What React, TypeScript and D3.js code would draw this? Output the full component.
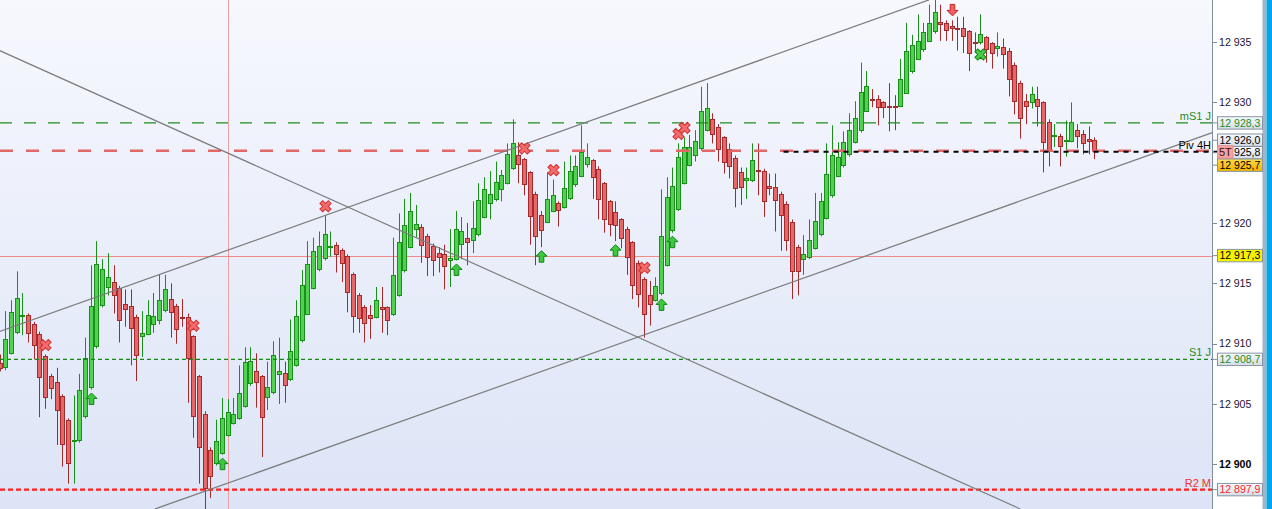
import React from "react";
import * as d3 from "d3";

// ---------- DATA ----------
const opens = [
  12908.4, 12908.1, 12909.2, 12911.0, 12912.3, 12912.4, 12911.6, 12910.8, 12909.0, 12907.3,
  12906.8, 12905.7, 12903.7, 12901.9, 12902.0, 12904.0, 12906.4, 12909.8, 12913.2, 12914.7,
  12915.1, 12914.6, 12913.3, 12913.1, 12912.2, 12910.6, 12910.8, 12911.6, 12912.0, 12912.8,
  12913.7, 12913.1, 12912.2, 12912.2, 12910.6, 12907.3, 12904.2, 12901.2, 12900.1, 12900.9,
  12902.4, 12903.4, 12903.8, 12904.8, 12906.7, 12907.7, 12907.3, 12905.6, 12906.0, 12907.5,
  12907.6, 12907.1, 12908.2, 12910.3, 12912.5, 12914.6, 12916.2, 12917.1, 12918.0, 12918.2,
  12917.8, 12917.3, 12915.8, 12914.0, 12913.0, 12912.4, 12912.2, 12913.0, 12913.0, 12912.5,
  12914.0, 12916.1, 12918.0, 12919.5, 12919.7, 12918.9, 12918.1, 12917.5, 12917.4, 12916.9,
  12917.0, 12918.3, 12918.8, 12918.6, 12919.1, 12920.5, 12921.7, 12922.0, 12922.8, 12923.3,
  12924.6, 12925.6, 12925.3, 12924.2, 12922.4, 12920.7, 12920.1, 12921.0, 12921.7, 12921.3,
  12922.1, 12923.2, 12923.9, 12924.9, 12925.2, 12924.5, 12923.3, 12921.8, 12920.9, 12920.3,
  12919.5, 12918.4, 12916.7, 12915.4, 12914.0, 12913.6, 12914.2, 12916.5, 12919.4, 12921.2,
  12923.3, 12924.8, 12925.6, 12926.2, 12927.7, 12928.6, 12928.0, 12927.1, 12926.1, 12925.4,
  12924.2, 12923.6, 12923.6, 12924.4, 12924.3, 12923.1, 12923.0, 12922.4, 12921.6, 12920.1,
  12918.0, 12917.0, 12917.2, 12917.9, 12919.1, 12920.4, 12922.3, 12923.9, 12924.8, 12925.7,
  12926.7, 12927.7, 12929.3, 12930.3, 12930.3, 12930.0, 12929.7, 12929.7, 12929.7, 12930.8,
  12932.6, 12933.6, 12934.4, 12935.1, 12935.9, 12936.7, 12936.6, 12936.3, 12936.2, 12936.2,
  12935.9, 12935.0, 12935.0, 12935.4, 12934.9, 12934.5, 12934.6, 12934.3, 12933.1, 12931.6,
  12930.1, 12930.0, 12930.3, 12930.0, 12928.4, 12927.2, 12927.2, 12926.8, 12926.8, 12927.7,
  12927.4, 12927.0, 12926.9,
];
const highs = [
  12909.1, 12912.7, 12913.6, 12916.0, 12914.2, 12912.5, 12911.8, 12911.0, 12909.1, 12907.5,
  12908.0, 12905.8, 12903.8, 12905.7, 12907.5, 12910.5, 12916.5, 12918.5, 12917.0, 12917.5,
  12916.5, 12914.8, 12914.5, 12914.5, 12912.4, 12912.7, 12913.6, 12914.2, 12915.7, 12915.7,
  12915.0, 12913.3, 12913.7, 12912.5, 12910.7, 12907.4, 12904.4, 12901.4, 12903.7, 12905.5,
  12905.4, 12905.5, 12908.2, 12909.7, 12909.7, 12909.2, 12907.4, 12908.5, 12910.2, 12910.5,
  12908.5, 12912.0, 12913.6, 12916.1, 12918.5, 12918.8, 12919.3, 12920.6, 12919.3, 12918.4,
  12917.9, 12917.4, 12915.9, 12914.2, 12913.2, 12913.2, 12914.7, 12914.7, 12913.1, 12918.8,
  12920.8, 12922.0, 12922.5, 12921.5, 12919.9, 12919.1, 12918.3, 12918.0, 12918.2, 12919.5,
  12921.0, 12920.5, 12920.0, 12921.8, 12923.3, 12923.8, 12924.3, 12925.1, 12924.4, 12926.6,
  12928.6, 12926.7, 12925.4, 12924.3, 12922.6, 12921.0, 12924.2, 12923.6, 12921.8, 12925.1,
  12925.6, 12925.6, 12928.1, 12926.6, 12925.3, 12924.7, 12923.4, 12921.9, 12921.8, 12920.4,
  12919.7, 12918.5, 12916.9, 12915.5, 12915.2, 12915.5, 12922.8, 12923.8, 12924.6, 12926.6,
  12927.1, 12927.3, 12927.7, 12931.3, 12931.6, 12929.1, 12928.2, 12927.2, 12926.6, 12925.6,
  12924.6, 12924.6, 12926.6, 12926.6, 12924.5, 12924.1, 12924.1, 12922.6, 12921.8, 12920.3,
  12918.2, 12919.0, 12920.3, 12922.5, 12922.5, 12926.6, 12928.1, 12926.7, 12927.6, 12929.1,
  12930.1, 12933.3, 12932.6, 12931.1, 12930.6, 12930.1, 12931.6, 12930.6, 12933.6, 12936.6,
  12935.6, 12937.3, 12936.6, 12938.1, 12938.5, 12938.1, 12936.8, 12936.8, 12937.1, 12937.1,
  12936.0, 12935.8, 12937.3, 12935.5, 12935.0, 12935.8, 12935.3, 12934.5, 12933.3, 12931.8,
  12930.7, 12931.3, 12931.3, 12930.1, 12928.6, 12928.2, 12927.4, 12928.5, 12930.0, 12928.2,
  12927.7, 12928.0, 12927.1,
];
const lows = [
  12907.7, 12907.8, 12909.1, 12910.8, 12910.7, 12910.1, 12908.7, 12903.9, 12904.6, 12905.4,
  12901.6, 12899.8, 12898.4, 12898.4, 12901.8, 12903.8, 12906.2, 12909.6, 12913.0, 12914.0,
  12912.5, 12910.1, 12911.4, 12908.2, 12906.9, 12908.9, 12910.7, 12910.9, 12911.6, 12912.6,
  12910.5, 12910.0, 12911.4, 12905.1, 12902.2, 12898.4, 12895.5, 12897.2, 12899.9, 12900.8,
  12902.3, 12903.3, 12903.7, 12904.7, 12906.5, 12904.7, 12900.6, 12904.5, 12905.8, 12905.0,
  12905.1, 12906.9, 12908.1, 12910.1, 12912.4, 12914.5, 12916.0, 12916.9, 12917.2, 12915.9,
  12915.1, 12912.6, 12910.9, 12910.9, 12910.1, 12910.4, 12912.1, 12910.9, 12910.7, 12912.3,
  12913.9, 12915.9, 12917.9, 12918.8, 12916.7, 12915.6, 12915.6, 12915.9, 12914.5, 12914.7,
  12916.9, 12917.0, 12916.5, 12917.5, 12918.9, 12920.4, 12920.3, 12921.8, 12921.8, 12923.2,
  12924.4, 12923.3, 12922.3, 12918.2, 12916.5, 12918.0, 12920.0, 12920.9, 12919.7, 12921.2,
  12921.9, 12923.0, 12923.8, 12924.6, 12922.0, 12920.3, 12919.2, 12918.9, 12918.5, 12917.9,
  12915.7, 12913.7, 12913.0, 12910.5, 12911.5, 12913.5, 12914.0, 12916.4, 12919.2, 12921.0,
  12923.2, 12924.7, 12925.1, 12926.0, 12927.6, 12926.6, 12925.1, 12924.1, 12923.7, 12921.3,
  12921.5, 12922.0, 12923.4, 12922.3, 12920.5, 12922.3, 12919.3, 12917.7, 12917.7, 12913.7,
  12914.0, 12915.7, 12917.0, 12917.8, 12918.9, 12920.3, 12922.1, 12923.8, 12924.6, 12925.5,
  12926.6, 12927.5, 12929.2, 12929.6, 12928.1, 12928.7, 12927.6, 12927.7, 12929.6, 12930.7,
  12932.4, 12933.5, 12934.2, 12935.0, 12935.7, 12935.1, 12935.1, 12935.1, 12934.3, 12934.1,
  12932.6, 12934.1, 12934.8, 12933.3, 12932.8, 12933.8, 12932.8, 12930.5, 12929.0, 12927.0,
  12928.2, 12929.5, 12928.0, 12924.2, 12924.7, 12926.3, 12924.7, 12925.5, 12926.7, 12926.2,
  12925.7, 12925.7, 12925.3,
];
const closes = [
  12908.0, 12910.4, 12912.6, 12913.8, 12912.4, 12910.9, 12909.9, 12907.2, 12905.6, 12906.3,
  12904.5, 12901.7, 12900.1, 12902.0, 12906.2, 12908.8, 12913.1, 12916.6, 12916.2, 12915.5,
  12914.0, 12912.0, 12912.9, 12911.3, 12909.1, 12910.9, 12912.4, 12912.3, 12913.6, 12914.5,
  12912.6, 12911.2, 12912.1, 12908.8, 12904.0, 12901.4, 12898.0, 12899.0, 12901.9, 12903.8,
  12904.3, 12904.2, 12905.9, 12908.5, 12908.6, 12906.8, 12903.9, 12906.4, 12909.1, 12907.7,
  12906.6, 12909.4, 12912.3, 12914.9, 12916.6, 12917.7, 12918.1, 12919.1, 12918.1, 12917.4,
  12916.7, 12914.3, 12912.3, 12912.1, 12911.7, 12912.1, 12913.6, 12912.9, 12912.0, 12915.7,
  12918.4, 12919.8, 12921.0, 12919.9, 12918.2, 12917.2, 12916.9, 12917.2, 12916.4, 12917.1,
  12919.5, 12919.3, 12918.4, 12919.6, 12921.9, 12922.8, 12922.4, 12923.4, 12924.0, 12925.7,
  12926.6, 12924.9, 12923.2, 12920.6, 12918.9, 12919.4, 12922.0, 12922.3, 12921.1, 12922.9,
  12924.3, 12924.7, 12925.9, 12925.5, 12923.8, 12922.0, 12920.3, 12919.9, 12919.8, 12918.8,
  12917.2, 12914.9, 12914.1, 12912.5, 12913.3, 12914.8, 12918.9, 12922.2, 12923.1, 12925.5,
  12926.3, 12926.3, 12926.8, 12929.3, 12929.5, 12927.4, 12926.1, 12925.1, 12924.7, 12922.9,
  12923.0, 12923.7, 12925.2, 12924.3, 12921.8, 12922.9, 12921.9, 12920.7, 12918.6, 12916.0,
  12916.0, 12917.4, 12918.6, 12920.2, 12921.8, 12924.1, 12925.6, 12925.5, 12926.7, 12927.7,
  12928.7, 12930.9, 12931.4, 12930.2, 12929.6, 12929.6, 12929.6, 12929.6, 12931.9, 12934.3,
  12934.8, 12935.1, 12935.8, 12936.6, 12937.5, 12936.5, 12936.0, 12936.2, 12936.1, 12935.5,
  12934.1, 12934.9, 12935.7, 12934.4, 12934.1, 12934.7, 12934.0, 12931.9, 12930.1, 12928.7,
  12929.7, 12930.7, 12929.7, 12926.7, 12926.0, 12927.3, 12926.4, 12926.9, 12928.4, 12927.2,
  12926.6, 12926.8, 12926.0,
];

const yTickValues = [12900, 12905, 12910, 12915, 12920, 12930, 12935];
const boldTickValue = 12900;

const levelNames = ["mS1 J", "", "Piv 4H", "", "S1 J", "R2 M"];
const levelPrices = [12928.3, 12926.0, 12925.9, 12917.3, 12908.7, 12897.9];
const levelStartIndex = [0, 0, 137.5, 0, 0, 0];

const axisLabelPrices = [12928.3, 12926.0, 12925.8, 12925.7, 12917.3, 12908.7, 12897.9];
const periodTag = "5T";
const periodTagPrice = 12925.9;

const trendFromIndex = [0, 27.3, 0];
const trendFromPrice = [12911.0, 12896.3, 12934.3];
const trendToIndex = [163, 212.7, 179];
const trendToPrice = [12938.5, 12927.5, 12896.3];

const cursorIndex = 40;

const sellCrossIdx = [8, 34, 57, 92, 97, 113, 119, 120];
const buyCrossIdx = [172];
const buyArrowIdx = [16, 39, 80, 95, 108, 116, 118];
const sellArrowIdx = [167];

// ---------- STYLES ----------
const W = 1272;
const H = 509;
const PLOT_R = 1212.5;
const FONT = "'Liberation Sans', Arial, sans-serif";
const GREEN_FILL = "#50d250";
const GREEN_STROKE = "#18901a";
const RED_FILL = "#e66767";
const RED_STROKE = "#a6292b";

const LEVEL_STYLES = [
  { color: "#1e8c1e", dash: "12,12", width: 1.2, text: "#238c23" },
  { color: "#e26868", dash: "13,13", width: 2.5, text: "" },
  { color: "#000000", dash: "5,5", width: 2, text: "#000000" },
  { color: "#f28a8a", dash: "", width: 1, text: "" },
  { color: "#138a13", dash: "4,3", width: 1.2, text: "#238c23" },
  { color: "#ff1e1e", dash: "5,3", width: 2.2, text: "#f03030" },
];
const LABEL_STYLES = [
  { fill: "url(#boxGrad)", text: "#1e8c1e" },
  { fill: "url(#boxGrad)", text: "#000000" },
  { fill: "url(#boxGrad)", text: "#000000" },
  { fill: "url(#goldGrad)", text: "#000000" },
  { fill: "#f6f200", text: "#000000" },
  { fill: "url(#boxGrad)", text: "#1e8c1e" },
  { fill: "url(#boxGrad)", text: "#ff1e1e" },
];

const locale = d3.formatLocale({ decimal: ",", thousands: " ", grouping: [3], currency: ["", ""] });
const fmtTick = locale.format(",.0f");
const fmtLabel = locale.format(",.1f");

function layoutLabels(ys: number[], h: number): number[] {
  const items = ys.map((y, i) => ({ i, y })).sort((a, b) => a.y - b.y);
  type C = { members: { i: number; y: number }[]; start: number };
  const place = (c: C) => {
    const m = d3.mean(c.members, (d) => d.y) as number;
    c.start = m - ((c.members.length - 1) * h) / 2;
  };
  const clusters: C[] = items.map((it) => ({ members: [it], start: it.y }));
  let changed = true;
  while (changed) {
    changed = false;
    for (let k = 1; k < clusters.length; k++) {
      const a = clusters[k - 1];
      const b = clusters[k];
      const aEnd = a.start + (a.members.length - 1) * h;
      if (b.start - aEnd < h) {
        a.members = a.members.concat(b.members);
        place(a);
        clusters.splice(k, 1);
        changed = true;
        break;
      }
    }
  }
  const out: number[] = new Array(ys.length);
  clusters.forEach((c) => c.members.forEach((m, j) => (out[m.i] = c.start + j * h)));
  return out;
}

export default function App() {
  const n = opens.length;
  const x = d3.scaleLinear().domain([0, n - 1]).range([-0.5, 1094.3]);
  const y = d3.scaleLinear().domain([12900, 12935]).range([464.3, 42.1]);

  const candles = d3.range(n).map((i) => {
    const o = opens[i], c = closes[i], h = highs[i], l = lows[i];
    const up = c >= o;
    const cx = Math.round(x(i));
    const yt = Math.round(y(Math.max(o, c)));
    const yb = Math.round(y(Math.min(o, c)));
    return (
      <g key={i}>
        <line x1={cx + 0.5} x2={cx + 0.5} y1={y(h)} y2={y(l)} stroke={up ? GREEN_STROKE : RED_STROKE} strokeWidth={1} />
        <rect
          x={cx - 1.5}
          y={yt + 0.5}
          width={4}
          height={Math.max(yb - yt, 1)}
          fill={up ? GREEN_FILL : RED_FILL}
          stroke={up ? GREEN_STROKE : RED_STROKE}
          strokeWidth={1}
        />
      </g>
    );
  });

  const crossPath = d3.symbol(d3.symbolCross, 78)() as string;
  const upArrow = "M0,0 L5.5,5.5 L2.3,5.5 L2.3,11.5 L-2.3,11.5 L-2.3,5.5 L-5.5,5.5 Z";
  const downArrow = "M0,0 L5.5,-5.5 L2.3,-5.5 L2.3,-11.5 L-2.3,-11.5 L-2.3,-5.5 L-5.5,-5.5 Z";

  const labelYs = layoutLabels(axisLabelPrices.map((p) => y(p)), 12.5);

  return (
    <>
      <style>{"body{margin:0;}"}</style>
      <svg width={W} height={H} style={{ display: "block", fontFamily: FONT }}>
        <defs>
          <linearGradient id="bgGrad" x1="0" y1="0" x2="0" y2="1">
            <stop offset="0" stopColor="#f7f8fe" />
            <stop offset="1" stopColor="#dce4f6" />
          </linearGradient>
          <linearGradient id="boxGrad" x1="0" y1="0" x2="0" y2="1">
            <stop offset="0" stopColor="#f9fbfd" />
            <stop offset="1" stopColor="#d3dce6" />
          </linearGradient>
          <linearGradient id="goldGrad" x1="0" y1="0" x2="0" y2="1">
            <stop offset="0" stopColor="#ffd94a" />
            <stop offset="1" stopColor="#f2b400" />
          </linearGradient>
          <clipPath id="plotClip">
            <rect x={0} y={0} width={PLOT_R} height={H} />
          </clipPath>
        </defs>

        <rect x={0} y={0} width={PLOT_R} height={H} fill="url(#bgGrad)" />
        <rect x={PLOT_R} y={0} width={1262.5 - PLOT_R} height={H} fill="#ffffff" />
        <rect x={1262.5} y={0} width={4} height={H} fill="#a3b5c5" />
        <rect x={1266.5} y={0} width={W - 1266.5} height={H} fill="#00a6ee" />

        <g clipPath="url(#plotClip)">
          <line x1={Math.round(x(cursorIndex)) + 0.5} x2={Math.round(x(cursorIndex)) + 0.5} y1={0} y2={H} stroke="#eea0a6" strokeWidth={1} />
          {levelPrices.map((p, i) =>
            i === 3 ? (
              <line key={"lv" + i} x1={0} x2={PLOT_R} y1={Math.round(y(p)) + 0.5} y2={Math.round(y(p)) + 0.5} stroke={LEVEL_STYLES[i].color} strokeWidth={1} />
            ) : null
          )}
          {candles}
          {levelPrices.map((p, i) =>
            i === 3 || i === 2 ? null : (
              <line
                key={"lv" + i}
                x1={x(levelStartIndex[i]) < 0 ? 0 : x(levelStartIndex[i])}
                x2={PLOT_R}
                y1={y(p)}
                y2={y(p)}
                stroke={LEVEL_STYLES[i].color}
                strokeWidth={LEVEL_STYLES[i].width}
                strokeDasharray={LEVEL_STYLES[i].dash}
              />
            )
          )}
          {trendFromIndex.map((fi, k) => (
            <line
              key={"tr" + k}
              x1={x(fi)}
              y1={y(trendFromPrice[k])}
              x2={x(trendToIndex[k])}
              y2={y(trendToPrice[k])}
              stroke="#7c7c7c"
              strokeWidth={1.2}
            />
          ))}
          {sellCrossIdx.map((i) => (
            <path
              key={"sx" + i}
              d={crossPath}
              transform={`translate(${Math.round(x(i)) + 0.5},${y(highs[i]) - 9.5}) rotate(45)`}
              fill="#f26a6a"
              stroke="#d03434"
              strokeWidth={1}
            />
          ))}
          {buyCrossIdx.map((i) => (
            <path
              key={"bx" + i}
              d={crossPath}
              transform={`translate(${Math.round(x(i)) + 0.5},${y(lows[i]) + 10}) rotate(45)`}
              fill="#4cc84c"
              stroke="#158a15"
              strokeWidth={1}
            />
          ))}
          {buyArrowIdx.map((i) => (
            <path
              key={"ba" + i}
              d={upArrow}
              transform={`translate(${Math.round(x(i)) + 0.5},${y(lows[i]) + 3.5})`}
              fill="#3ec83e"
              stroke="#11841a"
              strokeWidth={1}
            />
          ))}
          {sellArrowIdx.map((i) => (
            <path
              key={"sa" + i}
              d={downArrow}
              transform={`translate(${Math.round(x(i)) + 0.5},${y(highs[i]) - 4.5})`}
              fill="#f26060"
              stroke="#c02626"
              strokeWidth={1}
            />
          ))}
        </g>

        {/* pivot 4H line extends to the tag */}
        <line
          x1={x(levelStartIndex[2])}
          x2={1217}
          y1={y(levelPrices[2])}
          y2={y(levelPrices[2])}
          stroke={LEVEL_STYLES[2].color}
          strokeWidth={LEVEL_STYLES[2].width}
          strokeDasharray={LEVEL_STYLES[2].dash}
        />

        {levelNames.map((name, i) =>
          name ? (
            <text
              key={"ln" + i}
              x={1211}
              y={y(levelPrices[i]) - 3}
              textAnchor="end"
              fontSize={11}
              fill={LEVEL_STYLES[i].text}
            >
              {name}
            </text>
          ) : null
        )}

        {/* axis */}
        <line x1={PLOT_R} x2={PLOT_R} y1={0} y2={H} stroke="#7f8e9d" strokeWidth={1} />
        {yTickValues.map((v) => (
          <g key={"t" + v}>
            <line x1={PLOT_R} x2={1217} y1={Math.round(y(v)) + 0.5} y2={Math.round(y(v)) + 0.5} stroke="#7f8e9d" />
            <text
              x={1219}
              y={y(v)}
              dy="0.35em"
              fontSize={10.6}
              fontWeight={v === boldTickValue ? "bold" : "normal"}
              fill={v === boldTickValue ? "#000000" : "#1c1438"}
            >
              {fmtTick(v)}
            </text>
          </g>
        ))}

        {axisLabelPrices.map((p, i) => (
          <g key={"al" + i}>
            <line x1={PLOT_R} x2={1217} y1={labelYs[i]} y2={labelYs[i]} stroke="#7f8e9d" />
            <rect
              x={1217.5}
              y={labelYs[i] - 6.2}
              width={45}
              height={12.4}
              fill={LABEL_STYLES[i].fill}
              stroke="#8595a5"
              strokeWidth={1}
            />
            <text x={1219.5} y={labelYs[i]} dy="0.36em" fontSize={10.5} fill={LABEL_STYLES[i].text}>
              {fmtLabel(p)}
            </text>
          </g>
        ))}

        <g>
          <rect
            x={1217.5}
            y={y(periodTagPrice) - 6.2}
            width={15.5}
            height={12.4}
            fill="#f4a2a2"
            stroke="#ec8c8c"
            strokeWidth={1}
          />
          <text x={1219} y={y(periodTagPrice)} dy="0.36em" fontSize={11} fill="#3a1010">
            {periodTag}
          </text>
        </g>
      </svg>
    </>
  );
}
